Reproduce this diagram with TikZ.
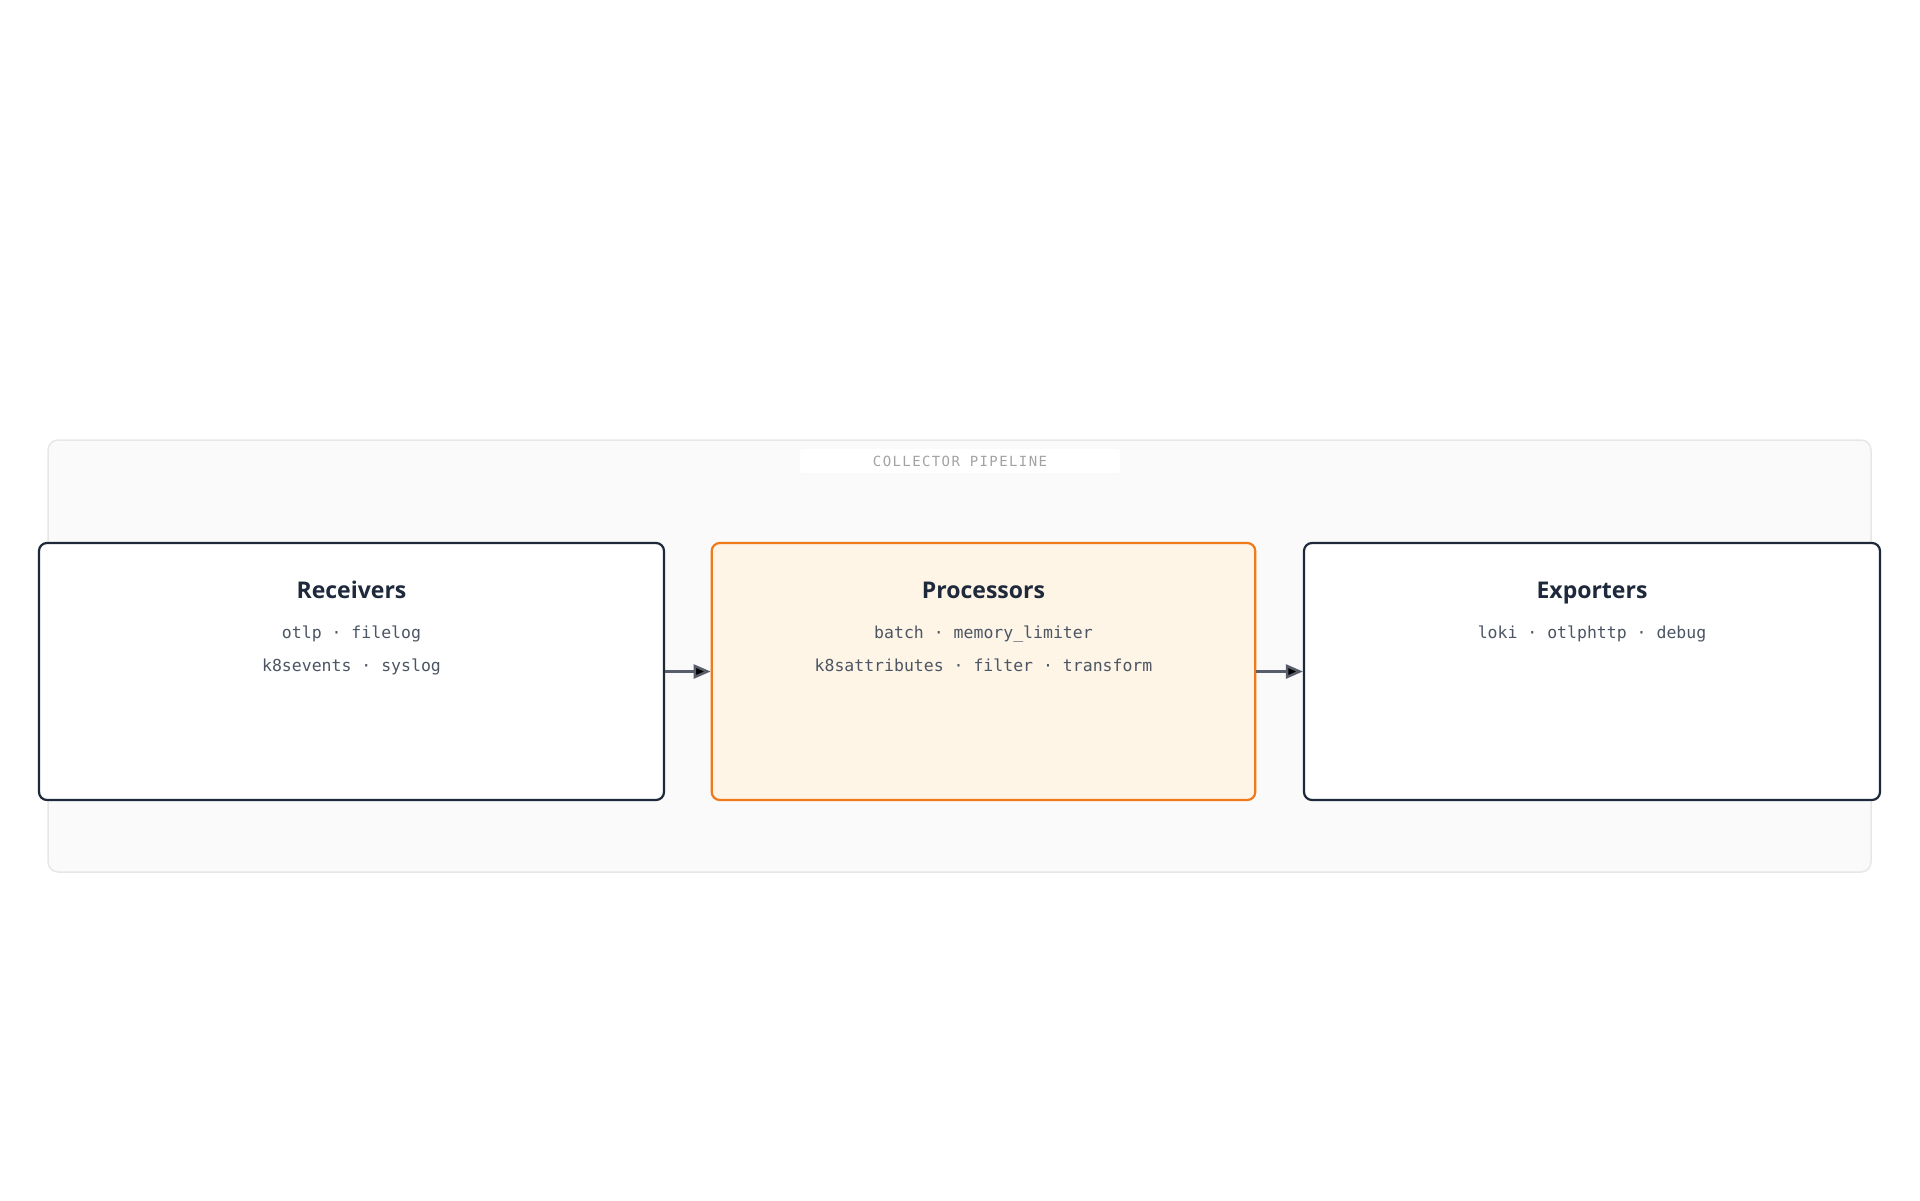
\documentclass[tikz,border=0pt]{standalone}
\usepackage{fontspec}
\setmainfont{Open Sans}
\setmonofont{DejaVu Sans Mono}
\newfontfamily\tagfont[LetterSpace=10]{DejaVu Sans Mono}
\usetikzlibrary{arrows.meta,positioning}

\definecolor{ink}{HTML}{1E293B}
\definecolor{itemgray}{HTML}{4B5563}
\definecolor{tagtext}{HTML}{A3A3A3}
\definecolor{panel}{HTML}{FAFAFA}
\definecolor{panelline}{HTML}{E7E7E7}
\definecolor{hotline}{HTML}{F07A1A}
\definecolor{hotfill}{HTML}{FEF5E6}
\definecolor{wire}{HTML}{575D6A}

\begin{document}
\begin{tikzpicture}[x=1pt,y=-1pt,
  stage node/.style={rectangle,rounded corners=8pt,draw=ink,line width=2.2pt,fill=white,minimum height=257pt},
  hot node/.style={stage node,draw=hotline,fill=hotfill},
  title node/.style={anchor=base,text=ink,font=\bfseries\fontsize{23}{27}\selectfont},
  item node/.style={anchor=base,text=itemgray,font=\ttfamily\fontsize{16.5}{20}\selectfont}]

  \useasboundingbox (0,0) rectangle (1920,1200);

  % pipeline frame
  \draw[fill=panel,draw=panelline,line width=1.5pt,rounded corners=10pt] (48,440) rectangle (1871,872);
  \node[fill=white,rounded corners=3pt,minimum width=320pt,minimum height=24pt,text=tagtext,
    font=\tagfont\fontsize{14}{16}\selectfont] (tag) at (960,461) {COLLECTOR PIPELINE};

  % stages
  \node[stage node,minimum width=625pt] (1) at (351.5,671.5) {};
  \node[hot node,minimum width=543.5pt] (2) at (983.5,671.5) {};
  \node[stage node,minimum width=576pt] (3) at (1592,671.5) {};

  \node[title node] (1t) at ([yshift=-57pt]1.north) {Receivers};
  \node[item node] (1a) at ([yshift=-97pt]1.north) {otlp · filelog};
  \node[item node] (1b) at ([yshift=-130pt]1.north) {k8sevents · syslog};

  \node[title node] (2t) at ([yshift=-57pt]2.north) {Processors};
  \node[item node] (2a) at ([yshift=-97pt]2.north) {batch · memory\_limiter};
  \node[item node] (2b) at ([yshift=-130pt]2.north) {k8sattributes · filter · transform};

  \node[title node] (3t) at ([yshift=-57pt]3.north) {Exporters};
  \node[item node] (3a) at ([yshift=-97pt]3.north) {loki · otlphttp · debug};

  \path[->,>={Triangle[length=17pt,width=14pt]},draw=wire,line width=2.5pt]
    (1) edge (2)
    (2) edge (3)
    ;

\end{tikzpicture}
\end{document}
